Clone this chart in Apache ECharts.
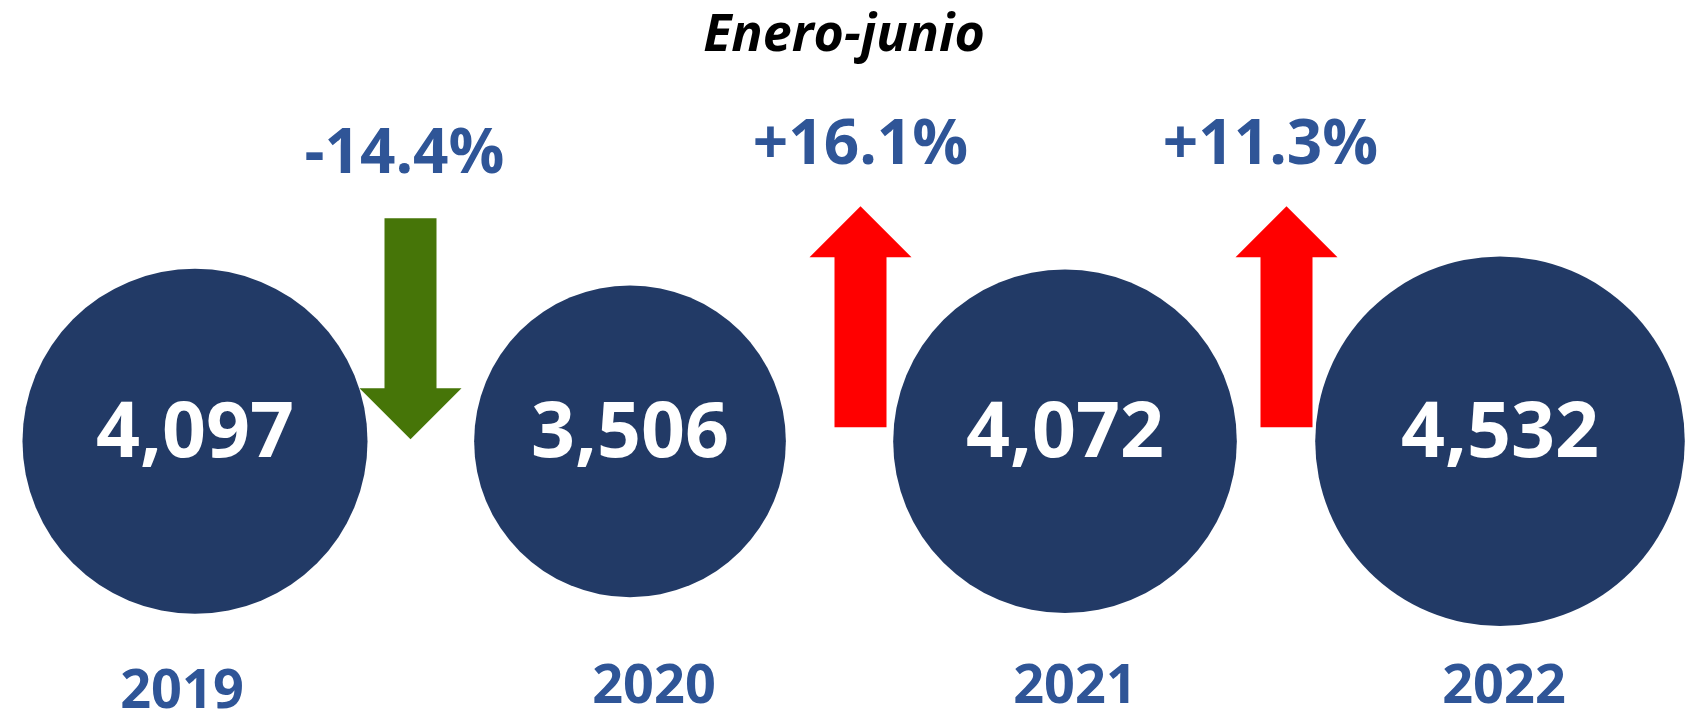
<!DOCTYPE html>
<html><head><meta charset="utf-8">
<script src="https://cdn.jsdelivr.net/npm/echarts@6/dist/echarts.min.js"></script>
<style>html,body{margin:0;padding:0;background:#fff}#c{width:1688px;height:720px}</style>
</head><body><div id="c"></div>
<script>
const titleText = 'Enero-junio';
const years = ['2019', '2020', '2021', '2022'];
const values = [4097, 3506, 4072, 4532];
const changes = [-14.4, 16.1, 11.3];

const FONT = '"Open Sans", sans-serif';
const NAVY = '#223A66', BLUE = '#2F5597', GREEN = '#467508', RED = '#FF0000';
// small horizontal nudges (px) of each change arrow / its label (style only)
const arrowNudge = [-2, 13, 4];
const labelNudge = [-6, 0, -16];

function diameter(v) { return 342.5 + 0.0564 * (v - 4051.75); }

const chart = echarts.init(document.getElementById('c'));
chart.setOption({
  backgroundColor: '#fff',
  animation: false,
  title: {
    text: titleText, left: 'center', top: 5,
    textStyle: { fontFamily: FONT, fontStyle: 'italic', fontWeight: 'bold', fontSize: 52, color: '#000' }
  },
  grid: { left: 195, right: 188, top: 40, bottom: 80, containLabel: false },
  xAxis: {
    type: 'value', min: 0, max: 3, interval: 1,
    axisLine: { show: false }, axisTick: { show: false }, splitLine: { show: false },
    axisLabel: {
      formatter: function (v) { return '{y' + v + '|' + (years[v] || '') + '}'; },
      color: BLUE, fontFamily: FONT, fontWeight: 'bold', fontSize: 54, margin: 28,
      rich: {
        y0: { color: BLUE, fontFamily: FONT, fontWeight: 'bold', fontSize: 54, padding: [5, 26, 0, 0] },
        y1: { color: BLUE, fontFamily: FONT, fontWeight: 'bold', fontSize: 54, padding: [0, 0, 0, 48] },
        y2: { color: BLUE, fontFamily: FONT, fontWeight: 'bold', fontSize: 54, padding: [0, 0, 0, 20] },
        y3: { color: BLUE, fontFamily: FONT, fontWeight: 'bold', fontSize: 54, padding: [0, 0, 0, 8] }
      }
    }
  },
  yAxis: { type: 'value', min: -0.3233, max: 0.6767, show: false },
  series: [
    {
      type: 'scatter', z: 2,
      data: values.map(function (v, i) { return [i, 0, v]; }),
      symbol: 'circle',
      symbolSize: function (val) { return diameter(val[2]); },
      itemStyle: { color: NAVY, opacity: 1 },
      label: {
        show: true, position: 'inside', offset: [0, -6],
        formatter: function (p) { return p.value[2].toLocaleString('en-US'); },
        color: '#fff', fontFamily: FONT, fontWeight: 'bold', fontSize: 77
      },
      emphasis: { disabled: true }
    },
    {
      type: 'custom', z: 5,
      data: changes.map(function (c, i) { return [i + 0.5, 0, c]; }),
      renderItem: function (params, api) {
        const p = api.coord([api.value(0), api.value(1)]);
        const x = p[0] + arrowNudge[params.dataIndex], base = p[1];
        const c = api.value(2);
        const up = c > 0;
        const sw = 26, hw = 51, hh = 51;
        let pts, labelY;
        if (up) {
          const top = base - 235, bottom = base - 14;
          pts = [[x - hw, top + hh], [x, top], [x + hw, top + hh], [x + sw, top + hh], [x + sw, bottom], [x - sw, bottom], [x - sw, top + hh]];
          labelY = base - 295;
        } else {
          const top = base - 223, bottom = base - 2;
          pts = [[x - sw, top], [x + sw, top], [x + sw, bottom - hh], [x + hw, bottom - hh], [x, bottom], [x - hw, bottom - hh], [x - sw, bottom - hh]];
          labelY = base - 286;
        }
        return {
          type: 'group',
          children: [
            { type: 'polygon', shape: { points: pts }, style: { fill: up ? RED : GREEN } },
            {
              type: 'text',
              style: {
                text: (c > 0 ? '+' : '') + c.toFixed(1) + '%',
                x: x + labelNudge[params.dataIndex], y: labelY, align: 'center', verticalAlign: 'middle',
                fill: BLUE, fontFamily: FONT, fontWeight: 'bold', fontSize: 62
              }
            }
          ]
        };
      }
    }
  ]
});
</script>
</body></html>
